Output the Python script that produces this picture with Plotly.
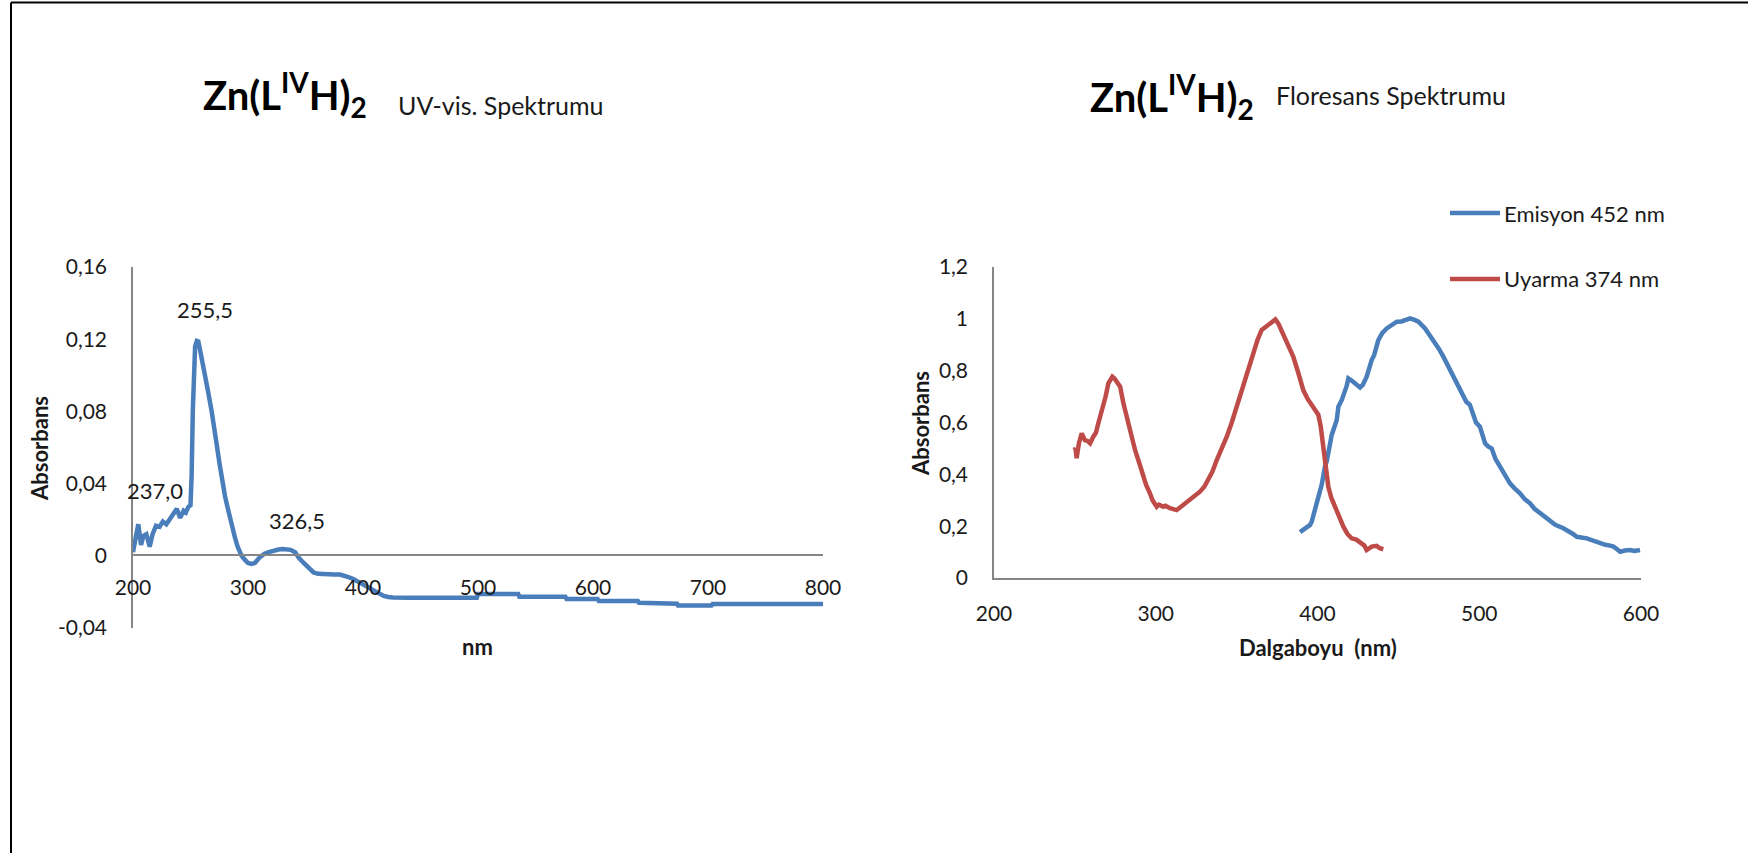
import plotly.graph_objects as go

# ---------------- data ----------------
uv_nm = [200, 202, 204.6, 207, 209, 211.6, 214.5, 217, 220, 223, 226, 229, 233, 236, 238, 241, 244, 246, 248, 250,
         251, 252, 253, 254, 255.5, 256.8, 258, 260, 262.6, 265, 268.4, 270, 272.8, 275, 277, 280, 283, 286, 288.7,
         291, 294.5, 297, 300, 303, 306, 310, 314, 318, 322, 326.5, 330, 333.5, 337, 341, 344, 348, 352, 357, 361,
         366, 370, 375, 380, 384, 388, 391.6, 396, 400, 403, 407, 411, 414.8, 418, 422, 426, 440, 460, 480, 499,
         500, 520, 535, 536, 560, 576, 577, 590, 604, 605, 620, 639, 640, 650, 661, 662, 673, 674, 690, 703, 704,
         720, 750, 780, 800]
uv_abs = [0.002, 0.010, 0.0175, 0.006, 0.011, 0.012, 0.005, 0.012, 0.0166, 0.016, 0.019, 0.0175, 0.021, 0.024,
          0.026, 0.021, 0.025, 0.024, 0.027, 0.028,
          0.045, 0.080, 0.105, 0.116, 0.119, 0.1187, 0.115, 0.109, 0.102, 0.092, 0.080, 0.072, 0.0616, 0.052,
          0.0432, 0.033, 0.0248, 0.016, 0.010, 0.005, 0.000, -0.002, -0.004, -0.0045, -0.004, -0.001, 0.001,
          0.002, 0.0028, 0.0035, 0.0037, 0.0037, 0.0033, 0.002, -0.001, -0.0037, -0.0065, -0.0092, -0.0100,
          -0.0103, -0.0103, -0.0103, -0.0104, -0.0110, -0.0120, -0.0129, -0.0145, -0.0158, -0.0170, -0.0185,
          -0.0200, -0.0212, -0.0222, -0.0228, -0.0231, -0.0232, -0.0232, -0.0232, -0.0232,
          -0.0212, -0.0212, -0.0212, -0.0227, -0.0227, -0.0227, -0.0240, -0.0240, -0.0240, -0.0250, -0.0250,
          -0.0250, -0.0260, -0.0260, -0.0260, -0.0265, -0.0265, -0.0276, -0.0276, -0.0276, -0.0267,
          -0.0267, -0.0267, -0.0267, -0.0267]

exc_nm = [249.7, 250.4, 251.1, 252.5, 254.2, 256.2, 258, 259.4, 261.4, 263, 264.5, 266, 267.6, 269, 270.7, 272,
          273.2, 274.5, 275.9, 278, 280, 283, 285, 287.2, 290, 292.3, 294, 296.4, 298, 300.6, 302, 304.7, 306,
          308.8, 311, 312.9, 315, 317, 320, 322.2, 325, 327.3, 330, 332.5, 335, 337.7, 341, 343.9, 347, 350, 353,
          356.2, 359, 361.4, 363, 365.5, 367, 369.6, 371, 372.7, 374, 375.8, 378, 380, 383, 385, 388.2, 391.2,
          394, 397.4, 400.5, 402, 403.6, 405, 406.7, 408.5, 410.8, 413, 416, 418.5, 421.1, 424, 427.3, 429,
          430.4, 432, 433.5, 436.6, 438.5, 440.7]
exc_int = [0.494, 0.50, 0.462, 0.52, 0.558, 0.532, 0.528, 0.52, 0.545, 0.56, 0.597, 0.63, 0.674, 0.70, 0.751,
           0.765, 0.777, 0.770, 0.757, 0.738, 0.674, 0.597, 0.55, 0.494, 0.44, 0.391, 0.36, 0.327, 0.30, 0.275,
           0.283, 0.275, 0.279, 0.269, 0.266, 0.262, 0.272, 0.282, 0.292, 0.307, 0.318, 0.333, 0.352, 0.378, 0.41,
           0.455, 0.50, 0.545, 0.60, 0.661, 0.72, 0.777, 0.83, 0.880, 0.92, 0.957, 0.965, 0.976, 0.985, 0.995,
           0.998, 0.982, 0.952, 0.918, 0.885, 0.854, 0.79, 0.725, 0.69, 0.661, 0.630, 0.584, 0.50, 0.43, 0.352,
           0.31, 0.275, 0.235, 0.198, 0.170, 0.153, 0.148, 0.134, 0.125, 0.108, 0.115, 0.121, 0.124, 0.115, 0.111]

em_nm = [389.2, 391, 393.3, 395.4, 396.4, 399.5, 400.5, 402.6, 404.6, 405.7, 408.8, 411.9, 412.9, 415, 418,
         419.1, 421.1, 422.2, 424, 426.3, 428, 430.4, 433.5, 435, 437.6, 440, 442.8, 446, 449, 452, 455.2,
         457.2, 460, 462.4, 466.5, 469, 471.7, 475, 477.8, 481, 484, 487, 490.1, 492, 494.2, 496.3, 498,
         500.4, 503.6, 505.5, 507.7, 510, 512.8, 516, 519, 522, 525.2, 528, 531.4, 534, 537.6, 540, 543.8,
         547, 552, 555, 558, 560.3, 563, 566.5, 570, 574.7, 578, 581, 583, 585, 587.1, 590, 593.3, 596,
         599.4]
em_int = [0.177, 0.185, 0.192, 0.205, 0.217, 0.288, 0.327, 0.36, 0.43, 0.45, 0.552, 0.61, 0.661, 0.687, 0.74,
          0.77, 0.762, 0.757, 0.745, 0.735, 0.745, 0.777, 0.841, 0.86, 0.918, 0.945, 0.963, 0.978, 0.989,
          0.99, 0.995, 1.002, 0.996, 0.989, 0.963, 0.94, 0.918, 0.885, 0.854, 0.815, 0.777, 0.74, 0.70, 0.68,
          0.668, 0.622, 0.600, 0.584, 0.52, 0.508, 0.50, 0.46, 0.429, 0.395, 0.365, 0.345, 0.327, 0.305,
          0.288, 0.268, 0.25, 0.24, 0.218, 0.205, 0.192, 0.182, 0.170, 0.159, 0.158, 0.153, 0.145, 0.134,
          0.128, 0.125, 0.121, 0.112, 0.101, 0.106, 0.108, 0.104, 0.108]

uv_xticks = [200, 300, 400, 500, 600, 700, 800]
uv_yticks = [-0.04, 0, 0.04, 0.08, 0.12, 0.16]
uv_ylabels = ["-0,04", "0", "0,04", "0,08", "0,12", "0,16"]
fl_xticks = [200, 300, 400, 500, 600]
fl_yticks = [0, 0.2, 0.4, 0.6, 0.8, 1.0, 1.2]
fl_ylabels = ["0", "0,2", "0,4", "0,6", "0,8", "1", "1,2"]

peak_labels = ["255,5", "237,0", "326,5"]
series_names = ["Emisyon 452 nm", "Uyarma 374 nm"]

# ---------------- layout helpers ----------------
W, H = 1753, 853
def px(x):
    return x / W
def py(y):
    return 1 - y / H

BLUE = "#4A7EBB"
RED = "#BE4B48"
AXIS = "#868686"
FONT = "Lato, Carlito, 'Open Sans', sans-serif"
TXT = "#1a1a1a"
LW = 4.5

fig = go.Figure()
fig.add_trace(go.Scatter(x=uv_nm, y=uv_abs, mode="lines", line=dict(color=BLUE, width=LW),
                         xaxis="x", yaxis="y", showlegend=False))
fig.add_trace(go.Scatter(x=em_nm, y=em_int, mode="lines", line=dict(color=BLUE, width=LW),
                         xaxis="x2", yaxis="y2", name=series_names[0], showlegend=False))
fig.add_trace(go.Scatter(x=exc_nm, y=exc_int, mode="lines", line=dict(color=RED, width=LW),
                         xaxis="x2", yaxis="y2", name=series_names[1], showlegend=False))

tickfont = dict(family=FONT, size=21, color=TXT)
common = dict(showgrid=False, zeroline=False, showline=True, linecolor=AXIS, linewidth=1.5,
              ticks="outside", tickcolor="rgba(0,0,0,0)", tickfont=tickfont, automargin=False)

fig.update_layout(
    width=W, height=H, autosize=False,
    margin=dict(l=0, r=0, t=0, b=0, pad=0),
    paper_bgcolor="white", plot_bgcolor="white",
    font=dict(family=FONT, color=TXT),
    showlegend=False,
    xaxis=dict(domain=[px(133), px(823)], range=[200, 800], tickvals=uv_xticks,
               anchor="free", position=py(555), ticklen=14, **common),
    yaxis=dict(domain=[py(628), py(267)], range=[-0.04, 0.16], tickvals=uv_yticks,
               ticktext=uv_ylabels, anchor="x", ticklen=20, **common),
    xaxis2=dict(domain=[px(994), px(1641)], range=[200, 600], tickvals=fl_xticks,
                anchor="y2", ticklen=16, **common),
    yaxis2=dict(domain=[py(578), py(267)], range=[0, 1.2], tickvals=fl_yticks,
                ticktext=fl_ylabels, anchor="x2", ticklen=20, **common),
)

ann = []
# titles
ann.append(dict(text="<b>Zn(L<sup>IV</sup>H)<sub>2</sub></b>", x=px(201), y=py(95), xanchor="left",
                yanchor="middle", font=dict(family=FONT, size=40, color="#000")))
ann.append(dict(text="UV-vis. Spektrumu", x=px(396), y=py(105), xanchor="left", yanchor="middle",
                font=dict(family=FONT, size=25, color=TXT)))
ann.append(dict(text="<b>Zn(L<sup>IV</sup>H)<sub>2</sub></b>", x=px(1088), y=py(97), xanchor="left",
                yanchor="middle", font=dict(family=FONT, size=40, color="#000")))
ann.append(dict(text="Floresans Spektrumu", x=px(1274), y=py(95), xanchor="left", yanchor="middle",
                font=dict(family=FONT, size=25, color=TXT)))
# axis titles
ann.append(dict(text="<b>Absorbans</b>", x=px(40), y=py(449), textangle=-90, xanchor="center",
                yanchor="middle", font=dict(family=FONT, size=22, color=TXT)))
ann.append(dict(text="<b>nm</b>", x=px(477), y=py(646), xanchor="center", yanchor="middle",
                font=dict(family=FONT, size=22, color=TXT)))
ann.append(dict(text="<b>Absorbans</b>", x=px(920), y=py(424), textangle=-90, xanchor="center",
                yanchor="middle", font=dict(family=FONT, size=22, color=TXT)))
ann.append(dict(text="<b>Dalgaboyu&nbsp; (nm)</b>", x=px(1318), y=py(647), xanchor="center",
                yanchor="middle", font=dict(family=FONT, size=22, color=TXT)))
# manual legend text
legend_y = [213, 279]
legend_col = [BLUE, RED]
for name, ly, col in zip(series_names, legend_y, legend_col):
    ann.append(dict(text=name, x=px(1502), y=py(ly), xanchor="left", yanchor="middle",
                    font=dict(family=FONT, size=22, color=TXT)))
    fig.add_shape(type="line", xref="paper", yref="paper", x0=px(1450), x1=px(1500), y0=py(ly), y1=py(ly),
                  line=dict(color=col, width=LW))
for a in ann:
    a.update(xref="paper", yref="paper", showarrow=False)

# peak labels (data coordinates)
peak_pos = [(262.6, 0.1363), (219.5, 0.0364), (342.6, 0.0193)]
for lab, (xx, yy) in zip(peak_labels, peak_pos):
    ann.append(dict(text=lab, x=xx, y=yy, xref="x", yref="y", showarrow=False,
                    xanchor="center", yanchor="middle", font=dict(family=FONT, size=22, color=TXT)))

fig.update_layout(annotations=ann)

# page border (top and left)
fig.add_shape(type="line", xref="paper", yref="paper", x0=px(11), x1=px(1748), y0=py(2.5), y1=py(2.5),
              line=dict(color="black", width=2))
fig.add_shape(type="line", xref="paper", yref="paper", x0=px(11), x1=px(11), y0=py(2.5), y1=0,
              line=dict(color="black", width=2))

fig.write_html(
    "out.html",
    config={"displayModeBar": False, "responsive": False},
    post_script=("document.documentElement.style.margin='0';document.documentElement.style.overflow='hidden';"
                 "document.body.style.margin='0';document.body.style.padding='0';"
                 "document.body.style.overflow='hidden';"),
)
